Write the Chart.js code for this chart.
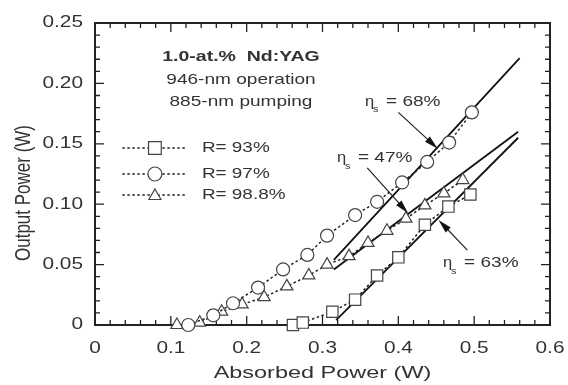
<!DOCTYPE html>
<html lang="en">
<head>
<meta charset="UTF-8">
<title>Nd:YAG 946-nm output power</title>
<script src="https://cdn.jsdelivr.net/npm/chart.js"></script>
<style>
  html, body { margin: 0; padding: 0; background: #fff; }
  #chart { display: block; }
</style>
</head>
<body>
<canvas id="chart" width="568" height="385"></canvas>
<script>
// R = 93 % output coupler (squares)
const r93X = [0.261, 0.274, 0.313, 0.343, 0.372, 0.400, 0.435, 0.466, 0.495];
const r93Y = [0.000, 0.002, 0.011, 0.021, 0.041, 0.056, 0.083, 0.098, 0.108];

// R = 97 % (circles)
const r97X = [0.123, 0.156, 0.182, 0.215, 0.248, 0.280, 0.306, 0.343, 0.372, 0.405, 0.438, 0.467, 0.497];
const r97Y = [0.000, 0.008, 0.018, 0.031, 0.046, 0.058, 0.074, 0.091, 0.102, 0.118, 0.135, 0.151, 0.176];

// R = 98.8 % (triangles)
const r988X = [0.108, 0.138, 0.167, 0.194, 0.223, 0.253, 0.282, 0.306, 0.335, 0.360, 0.385, 0.410, 0.435, 0.460, 0.485];
const r988Y = [0.000, 0.002, 0.011, 0.017, 0.023, 0.032, 0.041, 0.050, 0.057, 0.068, 0.078, 0.088, 0.099, 0.109, 0.120];

// slope-efficiency fits
const fit68X = [0.315, 0.560];
const fit68Y = [0.054, 0.221];
const fit47X = [0.315, 0.558];
const fit47Y = [0.046, 0.160];
const fit63X = [0.318, 0.558];
const fit63Y = [0.004, 0.155];

const xTickValues = [0, 0.1, 0.2, 0.3, 0.4, 0.5, 0.6];
const xTickLabels = ['0', '0.1', '0.2', '0.3', '0.4', '0.5', '0.6'];
const yTickValues = [0, 0.05, 0.10, 0.15, 0.20, 0.25];
const yTickLabels = ['0', '0.05', '0.10', '0.15', '0.20', '0.25'];

const seriesNames = ['R= 93%', 'R= 97%', 'R= 98.8%'];
const slopeLabels = ['68%', '47%', '63%'];
const captionLines = ['1.0-at.%  Nd:YAG', '946-nm operation', '885-nm pumping'];

const TEXT = '#333';
const INK = '#222';
const FONT = '"Liberation Sans", Arial, sans-serif';

function pts(xs, ys) {
    return xs.map((v, i) => ({ x: v, y: ys[i] }));
}

// the figure's lettering is wide, so text is drawn stretched sideways
function wideText(ctx, str, x, y, size, align, sx, weight) {
    ctx.save();
    ctx.font = (weight || '') + ' ' + size + 'px ' + FONT;
    ctx.fillStyle = TEXT;
    ctx.textAlign = align;
    ctx.textBaseline = 'middle';
    ctx.translate(x, y);
    ctx.scale(sx, 1);
    ctx.fillText(str, 0, 0);
    ctx.restore();
}

function marker(ctx, style, x, y, r) {
    ctx.beginPath();
    if (style === 'rect') {
        const s = r * Math.SQRT1_2;
        ctx.rect(x - s, y - s, 2 * s, 2 * s);
    } else if (style === 'triangle') {
        ctx.moveTo(x, y - r);
        ctx.lineTo(x + r * 0.866, y + r * 0.5);
        ctx.lineTo(x - r * 0.866, y + r * 0.5);
        ctx.closePath();
    } else {
        ctx.arc(x, y, r, 0, Math.PI * 2);
    }
    ctx.fill();
    ctx.stroke();
}

function arrow(ctx, x1, y1, x2, y2) {
    const ang = Math.atan2(y2 - y1, x2 - x1);
    const len = 14, half = 3.5;
    ctx.beginPath();
    ctx.moveTo(x1, y1);
    ctx.lineTo(x2 - Math.cos(ang) * 6, y2 - Math.sin(ang) * 6);
    ctx.stroke();
    ctx.beginPath();
    ctx.moveTo(x2, y2);
    ctx.lineTo(x2 - Math.cos(ang) * len - Math.sin(ang) * half, y2 - Math.sin(ang) * len + Math.cos(ang) * half);
    ctx.lineTo(x2 - Math.cos(ang) * len + Math.sin(ang) * half, y2 - Math.sin(ang) * len - Math.cos(ang) * half);
    ctx.closePath();
    ctx.fill();
}

const decorations = {
    id: 'decorations',
    beforeDatasetsDraw(chart) {
        const { ctx, chartArea: a, scales: { x, y } } = chart;
        ctx.save();
        ctx.strokeStyle = INK;
        ctx.lineWidth = 1.3;
        ctx.beginPath();
        for (let i = 0; i <= 30; i++) {
            const px = x.getPixelForValue(i * 0.02);
            const len = i % 5 === 0 ? 9 : 5;
            ctx.moveTo(px, a.bottom); ctx.lineTo(px, a.bottom - len);
            ctx.moveTo(px, a.top); ctx.lineTo(px, a.top + len);
        }
        for (let i = 0; i <= 25; i++) {
            const py = y.getPixelForValue(i * 0.01);
            const len = i % 5 === 0 ? 9 : 5;
            ctx.moveTo(a.left, py); ctx.lineTo(a.left + len, py);
            ctx.moveTo(a.right, py); ctx.lineTo(a.right - len, py);
        }
        ctx.stroke();
        ctx.lineWidth = 2;
        ctx.strokeRect(a.left, a.top, a.right - a.left, a.bottom - a.top);
        ctx.restore();
    },
    afterDraw(chart) {
        const { ctx, chartArea: a, scales: { x, y } } = chart;
        const X = v => x.getPixelForValue(v);
        const Y = v => y.getPixelForValue(v);

        // tick labels
        xTickValues.forEach((v, i) => wideText(ctx, xTickLabels[i], X(v), a.bottom + 24, 16, 'center', 1.3));
        yTickValues.forEach((v, i) => wideText(ctx, yTickLabels[i], a.left - 12, Y(v), 16, 'right', 1.3));

        // axis titles
        wideText(ctx, 'Absorbed Power (W)', (a.left + a.right) / 2, a.bottom + 48, 17, 'center', 1.38);
        ctx.save();
        ctx.translate(24, 193);
        ctx.rotate(-Math.PI / 2);
        ctx.scale(1, 1.25);
        ctx.font = '17px ' + FONT;
        ctx.fillStyle = TEXT;
        ctx.textAlign = 'center';
        ctx.textBaseline = 'middle';
        ctx.fillText('Output Power (W)', 0, 0);
        ctx.restore();

        // caption
        wideText(ctx, captionLines[0], X(0.1925), Y(0.222), 15, 'center', 1.3, 'bold');
        wideText(ctx, captionLines[1], X(0.1925), Y(0.203), 15, 'center', 1.27);
        wideText(ctx, captionLines[2], X(0.1925), Y(0.185), 15, 'center', 1.27);

        // legend
        const styles = ['rect', 'circle', 'triangle'];
        const rows = [0.1465, 0.125, 0.1076];
        ctx.save();
        rows.forEach((ry, i) => {
            const py = Y(ry);
            ctx.strokeStyle = INK;
            ctx.lineWidth = 1.5;
            ctx.setLineDash([2.5, 2.5]);
            ctx.beginPath();
            ctx.moveTo(X(0.036), py);
            ctx.lineTo(X(0.121), py);
            ctx.stroke();
            ctx.setLineDash([]);
            ctx.fillStyle = '#fff';
            ctx.strokeStyle = '#444';
            ctx.lineWidth = 1.2;
            marker(ctx, styles[i], X(0.079), py + (i === 2 ? 1 : 0), i === 0 ? 9 : 7);
            wideText(ctx, seriesNames[i], X(0.141), py, 15, 'left', 1.26);
        });
        ctx.restore();

        // slope annotations: eta_s = ..
        const etas = [
            { lx: 0.356, ly: 0.1846, from: [0.400, 0.176], to: [0.452, 0.146] },
            { lx: 0.319, ly: 0.138, from: [0.359, 0.130], to: [0.413, 0.0925] },
            { lx: 0.459, ly: 0.0513, from: [0.491, 0.062], to: [0.453, 0.087] }
        ];
        etas.forEach((e, i) => {
            const px = X(e.lx), py = Y(e.ly);
            wideText(ctx, '\u03b7', px, py, 15, 'left', 1.1);
            wideText(ctx, 's', px + 8, py + 8, 9, 'left', 1.2);
            wideText(ctx, '= ' + slopeLabels[i], px + 21, py, 15, 'left', 1.27);
            ctx.save();
            ctx.strokeStyle = INK;
            ctx.fillStyle = '#111';
            ctx.lineWidth = 1.2;
            arrow(ctx, X(e.from[0]), Y(e.from[1]), X(e.to[0]), Y(e.to[1]));
            ctx.restore();
        });
    }
};

function dotted(data, style, radius) {
    return {
        data: data,
        showLine: true,
        borderColor: INK,
        borderWidth: 1.5,
        borderDash: [2.5, 2.5],
        pointStyle: style,
        pointRadius: radius,
        pointBackgroundColor: '#fff',
        pointBorderColor: '#444',
        pointBorderWidth: 1.2,
        clip: false
    };
}

function solid(data) {
    return {
        data: data,
        showLine: true,
        borderColor: '#111',
        borderWidth: 1.8,
        pointRadius: 0,
        clip: false
    };
}

new Chart(document.getElementById('chart'), {
    type: 'scatter',
    data: {
        datasets: [
            dotted(pts(r93X, r93Y), 'rect', 8),
            dotted(pts(r97X, r97Y), 'circle', 6.5),
            dotted(pts(r988X, r988Y), 'triangle', 7),
            solid(pts(fit68X, fit68Y)),
            solid(pts(fit47X, fit47Y)),
            solid(pts(fit63X, fit63Y))
        ]
    },
    options: {
        responsive: false,
        animation: false,
        devicePixelRatio: 1,
        layout: { padding: { top: 23, right: 18, left: 0, bottom: 0 } },
        plugins: { legend: { display: false }, tooltip: { enabled: false } },
        scales: {
            x: {
                type: 'linear', min: 0, max: 0.6,
                grid: { display: false }, border: { display: false },
                ticks: { display: false },
                afterFit: s => { s.height = 60; }
            },
            y: {
                type: 'linear', min: 0, max: 0.25,
                grid: { display: false }, border: { display: false },
                ticks: { display: false },
                afterFit: s => { s.width = 95; }
            }
        }
    },
    plugins: [decorations]
});
</script>
</body>
</html>
